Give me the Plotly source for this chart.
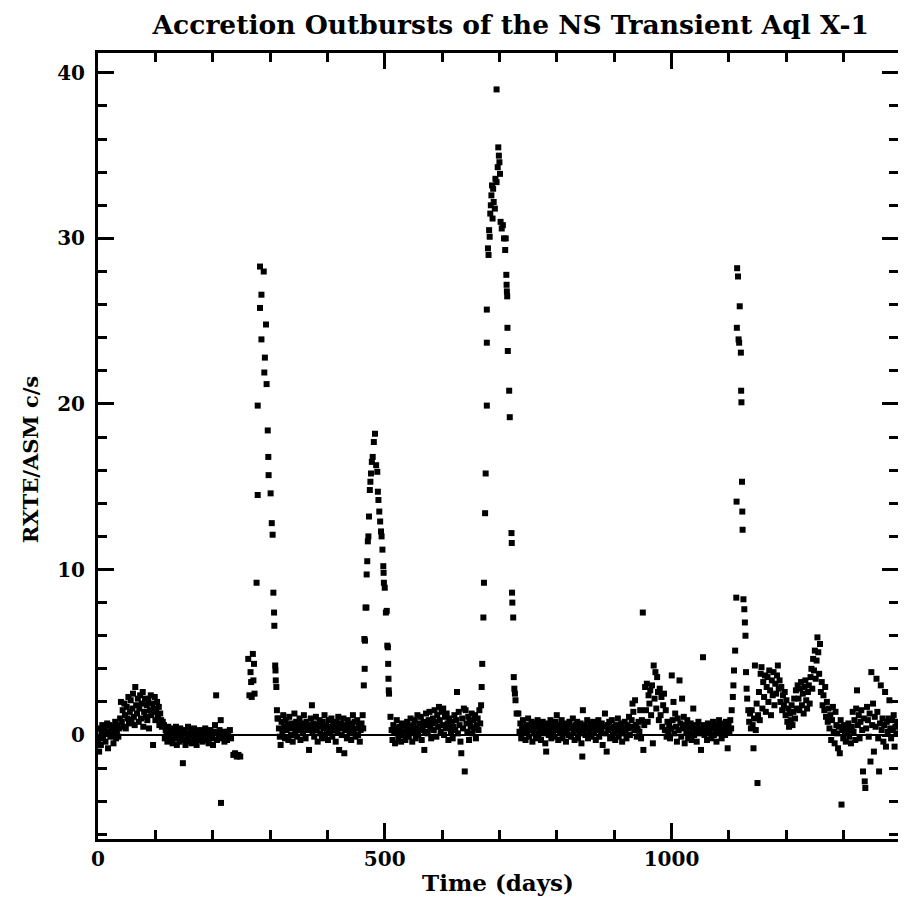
import plotly.graph_objects as go

# ---- data: RXTE/ASM count rate (c/s) vs time (days) ----
quiet_a = [(0.5,-0.3),(2,-1.0),(3.5,0.4),(5,-0.6),(6,0.2),(7.5,0.6),(9,-0.2),(10.5,0.3),(12,0.5),(13,-0.4),
           (14.5,0.1),(16,0.7),(17.5,-0.8),(19,0.2),(20,0.6),(21.5,-0.1),(23,0.4),(24.5,0.0),(26,0.5),(27,-0.5),
           (28.5,0.3),(30,0.8),(31.5,-0.2),(33,0.1),(34,0.6),(35.5,-0.1),(37,0.4),(38.5,1.0)]

hump_b = [(40,2.0),(41.5,0.8),(43,1.5),(44.5,0.5),(46,1.9),(47,1.2),(48.5,0.4),(50,1.7),(51.5,1.0),(53,2.3),
          (54,0.7),(55.5,1.4),(57,2.1),(58.5,0.9),(60,1.6),(61,2.5),(62.5,1.1),(64,0.6),(65,2.9),(66.5,1.8),
          (68,1.3),(69.5,2.2),(71,0.8),(72,1.6),(73.5,2.4),(75,1.0),(76.5,1.9),(78,2.6),(79,0.5),(80.5,1.4),
          (82,2.2),(83.5,1.1),(85,1.8),(86,0.9),(87.5,2.1),(89,0.4),(90.5,1.5),(92,2.4),(93,1.2),(94.5,1.9),
          (96,-0.6),(97.5,1.6),(99,2.3),(100,0.9),(101.5,1.4),(103,2.0),(104.5,1.1),(106,1.7),(107,0.6),(108.5,1.3),
          (110,0.9),(111.5,0.5),(113,0.8)]

quiet_c = [(115,0.6),(116.5,-0.2),(118,0.3),(119.5,0.1),(121,-0.4),(122.5,0.5),(124,0.0),(125.5,-0.3),(127,0.4),
           (128.5,0.2),(130,-0.5),(131.5,0.3),(133,0.1),(134.5,-0.2),(136,0.5),(137.5,-0.6),(139,0.2),(140.5,0.0),
           (142,-0.4),(143.5,0.4),(145,-0.1),(146.5,0.2),(148,-1.7),(149.5,-0.3),(151,0.3),(152.5,-0.6),(154,0.1),
           (155.5,-0.2),(157,0.5),(158.5,-0.4),(160,0.0),(161.5,0.3),(163,-0.5),(164.5,0.2),(166,-0.1),(167.5,0.4),
           (169,-0.3),(170.5,0.1),(172,-0.6),(173.5,0.2),(175,0.0),(176.5,-0.3),(178,0.3),(179.5,-0.1),(181,0.2),
           (182.5,-0.4),(184,0.1),(185.5,-0.2),(187,0.4),(188.5,0.0),(190,-0.3),(191.5,0.2),(193,-0.5),(194.5,0.1),
           (196,0.3),(197.5,-0.2),(199,0.0),(200.5,-0.6),(202,0.2),(204,0.6),(206,2.4),(207.5,-0.3),(209,0.1),
           (210.5,-0.1),(212,0.3),(214,0.9),(214.5,-4.1),(216,0.0),(217.5,-0.2),(219,0.2),(220.5,-0.4),(222,0.1),
           (223.5,0.0),(225,-0.3),(226.5,0.2),(228,-0.1),(230,0.3),(232,-0.2),
           (236,-1.2),(239,-1.1),(242,-1.3),(245,-1.2),(248,-1.3)]

outburst_1 = [(262,4.6),(264,2.4),(266,3.8),(267,3.2),(268,2.3),(270,4.9),(271,3.3),(272,4.3),(273,2.5),
              (276.5,9.2),(278.5,14.5),(278.5,19.9),(282.5,28.3),(289,28.0),(285,26.6),(282.5,25.8),(293,24.8),
              (285,23.9),(291,22.8),(290,21.9),(294,21.2),(296,18.4),(297,16.8),(297.5,15.7),(301,14.6),
              (303,12.8),(304.5,12.1),(305.8,8.6),(307,7.4),(307.5,6.6),(309,4.2),(309.5,3.9),(310,3.3),
              (311,2.9),(312,1.5),(313,1.0)]

quiet_e = [(314,1.0),(315.5,0.4),(317,-0.1),(318.5,-0.6),(320,0.8),(321.5,0.2),(323,1.2),(324.5,0.5),(326,-0.2),
           (327.5,0.9),(329,0.3),(330.5,0.6),(332,-0.3),(333.5,1.1),(335,0.4),(336.5,0.0),(338,0.7),(339.5,-0.4),
           (341,0.5),(342.5,1.3),(344,0.2),(345.5,0.8),(347,-0.1),(348.5,0.6),(350,0.3),(351.5,1.0),(353,-0.3),
           (354.5,0.4),(356,0.7),(357.5,0.1),(359,1.2),(360.5,0.5),(362,-0.2),(363.5,0.8),(365,0.3),(366.5,0.6),
           (368,-0.9),(369.5,0.4),(371,1.0),(373,1.8),(374,0.2),(375.5,0.7),(377,-0.1),(378.5,0.5),(380,1.1),
           (381.5,0.3),(383,-0.4),(384.5,0.6),(386,0.9),(387.5,0.1),(389,0.5),(390.5,-0.2),(392,0.8),(393.5,0.4),
           (395,1.2),(396.5,0.0),(398,0.6),(399.5,0.3),(401,-0.3),(402.5,0.9),(404,0.5),(405.5,0.2),(407,1.0),
           (408.5,-0.1),(410,0.7),(411.5,0.3),(413,0.5),(414.5,-0.4),(416,0.8),(417.5,0.2),(419,1.1),(420.5,-0.9),
           (422,0.4),(423.5,0.7),(425,0.0),(426.5,0.5),(428,1.0),(429.5,-1.1),(431,0.3),(432.5,0.6),(434,-0.2),
           (435.5,0.9),(437,0.4),(438.5,0.1),(440,0.7),(441.5,-0.3),(443,0.5),(444.5,1.2),(446,0.2),(447.5,0.8),
           (449,-0.1),(450.5,0.4),(452,0.9),(453.5,0.0),(455,0.6),(456.5,-0.4),(458,0.3),(459.5,0.7)]

outburst_2 = [(461.5,1.2),(462.5,0.4),(463.5,3.0),(464.5,5.8),(465,4.0),(465.5,5.7),(466.5,7.7),(468,7.7),
              (468.5,9.7),(469.5,10.5),(470.5,11.7),(471.5,12.0),(472.5,13.2),(474,14.8),(475,15.3),(476,15.8),
              (477.5,16.5),(479,16.8),(481,17.7),(483,18.2),(485,16.3),(487,15.9),(488,14.7),(489,14.2),
              (490.5,13.5),(492,12.9),(493.5,12.3),(494.5,12.0),(496,11.2),(497.5,10.2),(498,9.8),(498.5,9.2),
              (500,8.9),(502,7.4),(503.5,7.5),(504.5,5.4),(505.5,5.3),(506,4.3),(506.5,3.4),(507,2.7),
              (507.5,2.5),(510,1.1),(512,0.3)]

quiet_g = [(513.5,-0.3),(515,0.6),(516.5,0.2),(518,-0.5),(519.5,0.4),(521,0.9),(522.5,0.1),(524,-0.2),(525.5,0.5),
           (527,0.3),(528.5,-0.4),(530,0.7),(531.5,0.2),(533,0.0),(534.5,0.6),(536,-0.3),(537.5,0.4),(539,0.8),
           (540.5,0.1),(542,-0.1),(543.5,0.5),(545,1.0),(546.5,0.3),(548,-0.4),(549.5,0.6),(551,0.2),(552.5,0.9),
           (554,-0.2),(555.5,0.4),(557,1.2),(558.5,0.0),(560,0.7),(561.5,0.3),(563,1.1),(564.5,-0.3),(566,0.5),
           (567.5,0.8),(569,-0.9),(570.5,0.2),(572,1.3),(573.5,0.6),(575,0.1),(576.5,0.9),(578,1.4),(579.5,0.4),
           (581,-0.2),(582.5,0.7),(584,1.0),(585.5,0.3),(587,1.5),(588.5,0.8),(590,-0.1),(591.5,1.2),(593,0.5),
           (594.5,1.7),(596,0.9),(597.5,0.2),(599,1.4),(600.5,0.6),(602,1.6),(603.5,0.0),(605,1.1),(606.5,0.4),
           (608,1.3),(609.5,0.7),(611,-0.3),(612.5,1.0),(614,0.5),(615.5,0.2),(617,0.8),(618.5,-0.2),(620,0.5),
           (621.5,1.2),(623,0.3),(624.5,0.9),(626,2.6),(627.5,0.1),(629,1.4),(630.5,0.6),(632,-0.4),(633.5,-1.1),
           (635,1.0),(636.5,0.4),(638,1.6),(639.5,-2.2),(641,1.5),(642.5,0.7),(644,0.2),(645.5,1.1),(647,-0.3),
           (648.5,0.8),(650,0.5),(651.5,1.3),(653,0.1),(654.5,0.9),(656,0.4),(657.5,1.2),(659,-0.2),(660.5,0.6),
           (662,1.0),(663.5,0.3),(665,1.5),(666.5,0.7),(668,1.8),(669,2.9)]

outburst_3 = [(670,4.3),(672,7.1),(673,9.2),(675,13.4),(676,15.8),(678,19.9),(678,23.7),(678,25.7),(680,29.4),
              (681,29.0),(682,30.5),(683,30.1),(684,31.5),(685,32.0),(686,32.6),(687,33.2),(689,33.0),(690,32.2),
              (688,31.2),(692,31.8),(693,33.6),(695,33.4),(695,39.0),(697,34.3),(698,35.5),(699,35.0),(700,34.6),
              (701,33.9),(702,31.0),(704,30.6),(706,30.8),(708,30.0),(710,29.3),(711,30.0),(712,27.8),(712.5,27.2),
              (713,26.8),(713.5,26.5),(714,24.6),(714.6,23.2),(717,20.8),(718,19.2),(721,12.2),(721.5,11.6),
              (722,8.6),(722.5,8.0),(724,7.1),(725,3.5),(726,2.8),(727,2.5),(728,2.1),(730,1.3)]

quiet_i = [(733,1.3),(735,0.2),(736.5,0.7),(738,-0.2),(739.5,0.5),(741,0.9),(742.5,0.1),(744,0.4),(745.5,-0.3),
           (747,0.6),(748.5,0.2),(750,1.0),(751.5,-0.1),(753,0.5),(754.5,0.3),(756,0.8),(757.5,-0.4),(759,0.4),
           (760.5,0.1),(762,0.7),(763.5,-0.2),(765,0.5),(766.5,0.9),(768,0.0),(769.5,0.3),(771,0.6),(772.5,-0.3),
           (774,0.4),(775.5,0.8),(777,0.1),(778.5,0.5),(780,-0.5),(781.5,-1.0),(783,0.3),(784.5,0.7),(786,0.0),
           (787.5,0.4),(789,0.9),(790.5,-0.2),(792,0.6),(793.5,0.2),(795,0.5),(796.5,-0.1),(798,0.8),(800,1.2),
           (801,0.3),(802.5,-0.3),(804,0.6),(805.5,0.1),(807,0.4),(808.5,0.9),(810,-0.2),(811.5,0.5),(813,0.2),
           (814.5,0.7),(816,-0.4),(817.5,0.3),(819,0.6),(820.5,0.0),(822,0.8),(823.5,0.4),(825,-0.1),(826.5,0.5),
           (828,1.0),(829.5,0.2),(831,-0.3),(832.5,0.6),(834,0.3),(835.5,0.8),(837,-0.2),(838.5,0.4),(840,0.1),
           (841.5,0.7),(843,-0.5),(844.5,-1.3),(845.5,1.5),(847,0.3),(848.5,0.6),(850,0.0),(851.5,0.4),(853,0.9),
           (854.5,-0.2),(856,0.5),(857.5,0.2),(859,0.7),(860.5,-0.1),(862,0.4),(863.5,0.8),(865,0.1),(866.5,0.5),
           (868,-0.3),(869.5,0.6),(871,0.3),(872.5,0.9),(874,-0.1),(875.5,0.4),(877,0.2),(878.5,0.7),(880,-0.6),
           (882,0.5),(884,1.3),(885.5,0.1),(887,-1.0),(888.5,0.6),(890,0.3),(891.5,0.8),(893,-0.2),(894.5,0.4),
           (896,0.9),(897.5,0.0),(899,0.5),(900.5,0.2),(902,-0.3),(903.5,0.6),(905,0.3),(906.5,1.0),(908,-0.1),
           (909.5,0.5),(911,0.2),(912.5,0.7),(914,-0.4),(915.5,0.4),(917,0.1),(918.5,0.8),(920,0.3),(921.5,-0.2),
           (923,0.6),(924.5,0.4),(926,1.1),(927.5,0.0),(929,0.5),(930.5,0.9),(932,1.9),(933.5,1.4),(935,0.3),
           (936.5,2.1),(938,0.6),(939.5,-0.1),(941,0.4),(942.5,0.8),(944,0.2),(945.5,1.5)]

bump_j = [(947,-0.2),(948.5,0.9),(950,7.4),(951,-0.9),(952.5,0.6),(954,2.9),(955.5,1.5),(957,3.1),(958.5,0.8),
          (960,2.4),(961.5,1.9),(963,2.7),(964.5,1.2),(966,3.0),(967.5,-0.5),(969,4.2),(970.5,2.2),(972,3.8),
          (973.5,1.6),(975,3.5),(976.5,2.6),(978,0.9),(979.5,2.8),(981,1.2),(982.5,2.3),(984,0.5),(985.5,1.8),
          (987,2.5),(988.5,0.3),(990,1.5),(991.5,-0.1),(993,0.8),(994.5,0.2),(996,0.6)]

quiet_k = [(997.5,-0.2),(999,0.4),(1000.5,3.6),(1002,0.9),(1003.5,2.0),(1005,0.1),(1006.5,1.3),(1008,0.5),
           (1009.5,-0.4),(1011,1.0),(1012.5,0.3),(1014,3.3),(1015.5,0.7),(1017,-0.1),(1018.5,2.2),(1020,0.4),
           (1021.5,1.1),(1023,-0.5),(1024.5,0.6),(1026,0.2),(1027.5,0.9),(1029,-0.2),(1030.5,0.5),(1032,0.1),
           (1033.5,0.7),(1035,-0.3),(1036.5,0.4),(1038,1.6),(1039.5,0.0),(1041,0.6),(1042.5,0.2),(1044,-0.4),
           (1045.5,0.5),(1047,0.8),(1048.5,0.1),(1050,0.4),(1051.5,-0.9),(1053,0.3),(1055,4.7),(1056,0.6),
           (1057.5,0.0),(1059,0.5),(1060.5,0.2),(1062,-0.3),(1063.5,0.7),(1065,0.3),(1066.5,0.1),(1068,0.6),
           (1069.5,-0.2),(1071,0.4),(1072.5,0.8),(1074,0.0),(1075.5,0.5),(1077,0.2),(1078.5,-0.4),(1080,0.6),
           (1081.5,0.3),(1083,0.9),(1084.5,0.1),(1086,0.4),(1087.5,-0.2),(1089,0.7),(1090.5,0.2),(1092,0.5),
           (1093.5,0.0),(1095,0.8),(1096.5,0.3),(1098,-0.8),(1099.5,0.6),(1101,0.2),(1102.5,0.9),(1104,0.4)]

outburst_4 = [(1105,1.5),(1107,2.3),(1108,3.0),(1109,3.9),(1111,5.1),(1113,8.3),(1113.5,14.1),(1114,24.6),
              (1114.5,28.2),(1116,27.7),(1119,25.9),(1117,23.9),(1118,23.7),(1121,23.1),(1121.5,20.8),(1122,20.1),
              (1123,15.3),(1123.5,13.5),(1124,12.4),(1125.5,8.2),(1127,7.6),(1128,6.8),(1129,6.0),(1130,3.8),
              (1131,2.8),(1132,2.2),(1134,1.5)]

active_m = [(1135.5,0.8),(1137,1.3),(1138.5,0.4),(1140,1.5),(1141.5,0.6),(1143,-0.8),(1144,1.0),(1145.5,4.2),
            (1147,0.3),(1148.5,1.9),(1150,-2.9),(1151,1.2),(1152.5,2.6),(1154,0.9),(1155.5,3.7),(1157,4.1),
            (1158.5,1.6),(1160,3.2),(1161.5,2.3),(1163,3.6),(1164.5,1.4),(1166,2.9),(1167.5,3.5),(1169,2.0),
            (1170.5,3.9),(1172,2.7),(1173.5,1.2),(1175,3.3),(1176.5,2.4),(1178,3.8),(1179.5,1.8),(1181,3.1),
            (1182.5,2.5),(1184,3.6),(1185.5,4.2),(1187,2.8),(1188.5,3.3),(1190,2.0),(1191.5,2.9),(1193,1.5),
            (1194.5,2.4),(1196,1.8),(1197.5,2.6),(1199,1.2),(1200.5,2.1),(1202,0.8),(1203.5,1.6),(1205,0.5),
            (1206.5,1.3),(1208,0.9),(1209.5,1.8),(1211,0.6),(1212.5,1.4),(1214,2.2),(1215.5,1.0),(1217,2.7),
            (1218.5,1.6),(1220,3.0),(1221.5,2.2),(1223,1.5),(1224.5,2.8),(1226,3.2),(1227.5,1.8),(1229,2.5),
            (1230.5,1.3),(1232,2.9),(1233.5,3.3),(1235,2.1),(1236.5,1.6),(1238,2.6),(1239.5,3.0),(1241,1.9),
            (1242.5,3.5),(1244,4.0),(1245.5,2.8),(1247,4.6),(1248.5,3.9),(1250,5.1),(1251.5,3.4),(1253,4.5),
            (1254.5,5.9),(1256,5.0),(1257.5,3.7),(1259,5.5),(1260.5,2.6),(1262,3.2),(1263.5,1.8),(1265,2.4),
            (1266.5,1.5),(1268,2.9),(1269.5,1.1),(1271,2.0),(1272.5,0.8),(1274,1.6),(1275.5,0.4),(1277,1.2),
            (1278.5,-0.3),(1280,0.9),(1281.5,1.7),(1283,0.2),(1284.5,-0.5),(1286,1.4),(1287.5,0.6),(1289,0.1),
            (1290.5,-0.8),(1292,0.5),(1293.5,-1.1),(1295,0.9),(1296.5,-4.2),(1298,0.3),(1299.5,-0.2),(1301,0.6),
            (1302.5,0.2),(1304,-0.4),(1305.5,0.4),(1307,0.1),(1308.5,0.7),(1310,-0.1),(1311.5,0.3),(1313,-0.5),
            (1314.5,0.5),(1316,1.4),(1317.5,0.2),(1319,0.9),(1320.5,-0.3),(1322,1.6),(1323.5,2.7),(1325,0.6),
            (1326.5,1.2),(1328,-0.2),(1329.5,0.8),(1331,1.5),(1332.5,0.3),(1334,-2.2),(1335.5,1.0),(1337,-2.8),
            (1338,-3.2),(1339.5,0.4),(1341,1.7),(1342.5,0.9),(1344,-0.1),(1345.5,1.3),(1347,-1.6),(1348.5,3.8),
            (1350,0.6),(1351.5,1.9),(1353,-1.0),(1354.5,1.1),(1356,0.5),(1357.5,3.4),(1359,1.4),(1360.5,-0.2),
            (1362,-2.2),(1363.5,0.7),(1365,3.0),(1366.5,0.3),(1368,1.0),(1369.5,-0.4),(1371,0.6),(1372.5,2.6),
            (1374,-0.7),(1375.5,0.8),(1377,0.2),(1378.5,1.0),(1380,2.1),(1381.5,0.4),(1383,-0.2),(1384.5,0.9),
            (1386,0.3),(1387.5,1.2),(1389,-0.7),(1390.5,0.5),(1392,0.1),(1393.5,0.8)]

segments = [quiet_a, hump_b, quiet_c, outburst_1, quiet_e, outburst_2, quiet_g, outburst_3,
            quiet_i, bump_j, quiet_k, outburst_4, active_m]

time_days = [p[0] for seg in segments for p in seg]
rate_cps = [p[1] for seg in segments for p in seg]

title_text = "Accretion Outbursts of the NS Transient Aql X-1"
x_title = "Time (days)"
y_title = "RXTE/ASM c/s"

FONT = "DejaVu Serif"

fig = go.Figure()
fig.add_trace(go.Scatter(
    x=time_days, y=rate_cps, mode="markers",
    marker=dict(symbol="square", size=6, color="black", line=dict(width=0)),
    showlegend=False, hoverinfo="x+y",
))

axis_common = dict(
    showline=True, linecolor="black", linewidth=3, mirror="allticks",
    ticks="inside", ticklen=16, tickwidth=2.5, tickcolor="black",
    showgrid=False,
    tickfont=dict(family=FONT, size=20, color="black", weight="bold"),
)

# The page body has an 8px default margin, so the figure is 8px smaller and the
# margins are shifted to keep the plot box where the reference has it.
fig.update_layout(
    width=898, height=902,
    margin=dict(l=90, r=8, t=45, b=71),
    paper_bgcolor="white", plot_bgcolor="white",
    title=dict(text=title_text, x=0.516, xanchor="center", y=1 - 17/902, yanchor="middle",
               xref="paper", yref="container",
               font=dict(family=FONT, size=26.5, color="black", weight="bold")),
    xaxis=dict(range=[0, 1395], tick0=0, dtick=500, zeroline=False,
               minor=dict(dtick=100, ticks="inside", ticklen=9, tickwidth=2.5, tickcolor="black", showgrid=False),
               title=dict(text=x_title, standoff=5,
                          font=dict(family=FONT, size=23, color="black", weight="bold")),
               automargin=False, **axis_common),
    yaxis=dict(range=[-6.28, 41.2], tick0=0, dtick=10, ticklabelstandoff=6,
               zeroline=True, zerolinecolor="black", zerolinewidth=2,
               minor=dict(dtick=2, ticks="inside", ticklen=9, tickwidth=2.5, tickcolor="black", showgrid=False),
               automargin=False, **axis_common),
    annotations=[dict(text=y_title, textangle=-90, xref="paper", yref="paper",
                      x=-0.085, y=0.482, xanchor="center", yanchor="middle", showarrow=False,
                      font=dict(family=FONT, size=21, color="black", weight="bold"))],
)

fig.write_html("out.html")
